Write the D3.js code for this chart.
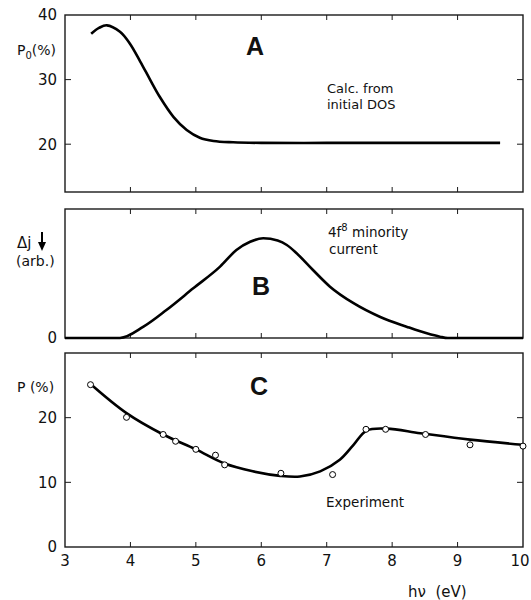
<!DOCTYPE html>
<meta charset="utf-8">
<style>
	body { margin: 0; background: #fff; font-family: "DejaVu Sans", Arial, sans-serif; }
	.frame { fill: none; stroke: #1a1a1a; stroke-width: 1.4; }
	.tick { stroke: #1a1a1a; stroke-width: 1; }
	.curve { fill: none; stroke: #000; stroke-width: 2.6; stroke-linejoin: round; }
	text { fill: #111; }
</style>
<body>
<svg id="chart" width="531" height="600"></svg>

<script src="https://d3js.org/d3.v7.min.js"></script>
<script>
	// panel A: calculated P0 from initial DOS
	var hvA = [3.40, 3.52, 3.64, 3.84, 3.99, 4.15, 4.30, 4.45, 4.66, 4.86, 5.06, 5.27, 5.57, 6.0, 7.0, 8.0, 9.0, 9.65];
	var p0A = [37.1, 38.0, 38.4, 37.4, 35.6, 32.8, 30.0, 27.3, 24.2, 22.2, 21.0, 20.5, 20.3, 20.2, 20.2, 20.2, 20.2, 20.2];

	// panel B: 4f8 minority current (arb.)
	var hvB = [3.0, 3.84, 4.20, 4.55, 4.96, 5.37, 5.62, 5.83, 6.03, 6.25, 6.39, 6.54, 6.79, 7.05, 7.41, 7.81, 8.22, 8.53, 8.73, 8.85, 10.0];
	var djB = [0, 0, 0.088, 0.217, 0.385, 0.553, 0.682, 0.746, 0.773, 0.755, 0.721, 0.657, 0.527, 0.398, 0.27, 0.165, 0.088, 0.036, 0.01, 0, 0];

	// panel C: experiment, smooth curve and measured points
	var hvC = [3.39, 3.94, 4.5, 5.0, 5.44, 5.87, 6.29, 6.59, 6.9, 7.2, 7.41, 7.61, 7.92, 8.43, 9.19, 10.0];
	var pC = [25.2, 20.7, 17.4, 15.1, 12.9, 11.7, 11.0, 10.9, 11.7, 13.5, 15.8, 18.0, 18.3, 17.6, 16.6, 15.8];
	var hvPts = [3.39, 3.94, 4.50, 4.69, 5.00, 5.30, 5.44, 6.30, 7.09, 7.60, 7.90, 8.51, 9.19, 10.0];
	var pPts = [25.1, 20.05, 17.4, 16.35, 15.1, 14.2, 12.7, 11.4, 11.2, 18.2, 18.2, 17.4, 15.8, 15.6];

	var xTicks = [3, 4, 5, 6, 7, 8, 9, 10];

	var svg = d3.select("#chart");
	var left = 65, right = 523;

	var x = d3.scaleLinear().domain([3, 10]).range([left, right]);

	var panels = [
		{ top: 15, bottom: 192, domain: [12.6, 40], yTicks: [20, 30, 40], inner: [20, 30] },
		{ top: 209, bottom: 338, domain: [0, 1], yTicks: [0], inner: [] },
		{ top: 353, bottom: 547, domain: [0, 30], yTicks: [0, 10, 20], inner: [10, 20] }
	];

	panels.forEach(function(p) {
		p.y = d3.scaleLinear().domain(p.domain).range([p.bottom, p.top]);
		var g = svg.append("g");
		g.append("rect").attr("class", "frame")
			.attr("x", left).attr("y", p.top)
			.attr("width", right - left).attr("height", p.bottom - p.top);

		// inward ticks on top and bottom
		xTicks.slice(1, -1).forEach(function(t) {
			g.append("line").attr("class", "tick")
				.attr("x1", x(t)).attr("x2", x(t)).attr("y1", p.top).attr("y2", p.top + 5);
			g.append("line").attr("class", "tick")
				.attr("x1", x(t)).attr("x2", x(t)).attr("y1", p.bottom).attr("y2", p.bottom - 5);
		});
		// inward ticks on left and right
		p.inner.forEach(function(t) {
			g.append("line").attr("class", "tick")
				.attr("x1", left).attr("x2", left + 6).attr("y1", p.y(t)).attr("y2", p.y(t));
			g.append("line").attr("class", "tick")
				.attr("x1", right).attr("x2", right - 6).attr("y1", p.y(t)).attr("y2", p.y(t));
		});
		p.yTicks.forEach(function(t) {
			g.append("text")
				.attr("x", 57).attr("y", p.y(t)).attr("dy", "0.36em")
				.attr("text-anchor", "end").attr("font-size", 15)
				.text(t);
		});
		p.g = g;
	});

	function lineFor(y, curve) {
		return d3.line()
			.x(function(d) { return x(d[0]); })
			.y(function(d) { return y(d[1]); })
			.curve(curve);
	}

	// curves
	panels[0].g.append("path").attr("class", "curve")
		.attr("d", lineFor(panels[0].y, d3.curveCatmullRom.alpha(0.5))(d3.zip(hvA, p0A)));
	panels[1].g.append("path").attr("class", "curve")
		.attr("d", lineFor(panels[1].y, d3.curveMonotoneX)(d3.zip(hvB, djB)));
	panels[2].g.append("path").attr("class", "curve")
		.attr("d", lineFor(panels[2].y, d3.curveCatmullRom.alpha(0.5))(d3.zip(hvC, pC)));

	panels[2].g.selectAll("circle.pt")
		.data(d3.zip(hvPts, pPts))
		.enter().append("circle")
		.attr("class", "pt")
		.attr("cx", function(d) { return x(d[0]); })
		.attr("cy", function(d) { return panels[2].y(d[1]); })
		.attr("r", 3)
		.attr("fill", "#fff")
		.attr("stroke", "#000")
		.attr("stroke-width", 1);

	// x tick labels (last one nudged so it stays on the page)
	xTicks.forEach(function(t, i) {
		svg.append("text")
			.attr("x", i === xTicks.length - 1 ? x(t) - 3 : x(t)).attr("y", 566)
			.attr("text-anchor", "middle").attr("font-size", 15)
			.text(t);
	});

	// axis titles
	var tA = svg.append("text").attr("x", 17).attr("y", 55).attr("font-size", 14);
	tA.append("tspan").text("P");
	tA.append("tspan").attr("font-size", 10).attr("dy", 4).text("0");
	tA.append("tspan").attr("dy", -4).text("(%)");

	svg.append("text").attr("x", 17).attr("y", 248).attr("font-size", 15).text("\u0394j");
	svg.append("line").attr("x1", 42).attr("x2", 42).attr("y1", 232).attr("y2", 245)
		.attr("stroke", "#000").attr("stroke-width", 2);
	svg.append("path").attr("d", "M38,242 L46,242 L42,251 Z").attr("fill", "#000");
	svg.append("text").attr("x", 16).attr("y", 266).attr("font-size", 14).text("(arb.)");

	svg.append("text").attr("x", 17).attr("y", 392).attr("font-size", 14)
		.attr("xml:space", "preserve").text("P (%)");

	svg.append("text").attr("x", 408).attr("y", 597).attr("font-size", 15)
		.attr("xml:space", "preserve").text("h\u03BD  (eV)");

	// panel letters
	[["A", 255, 55], ["B", 261, 295], ["C", 259, 395]].forEach(function(l) {
		svg.append("text").attr("x", l[1]).attr("y", l[2])
			.attr("font-family", "Liberation Sans, Arial, sans-serif")
			.attr("text-anchor", "middle").attr("font-size", 25).attr("font-weight", "bold")
			.text(l[0]);
	});

	// annotations
	svg.append("text").attr("x", 327).attr("y", 93).attr("font-size", 13).text("Calc. from");
	svg.append("text").attr("x", 327).attr("y", 109).attr("font-size", 13).text("initial DOS");

	var t4 = svg.append("text").attr("x", 328).attr("y", 237).attr("font-size", 13.5);
	t4.append("tspan").text("4f");
	t4.append("tspan").attr("font-size", 10).attr("dy", -6).text("8");
	t4.append("tspan").attr("dy", 6).text(" minority");
	svg.append("text").attr("x", 329).attr("y", 254).attr("font-size", 13.5).text("current");

	svg.append("text").attr("x", 326).attr("y", 507).attr("font-size", 13.5).text("Experiment");
</script>
</body>
